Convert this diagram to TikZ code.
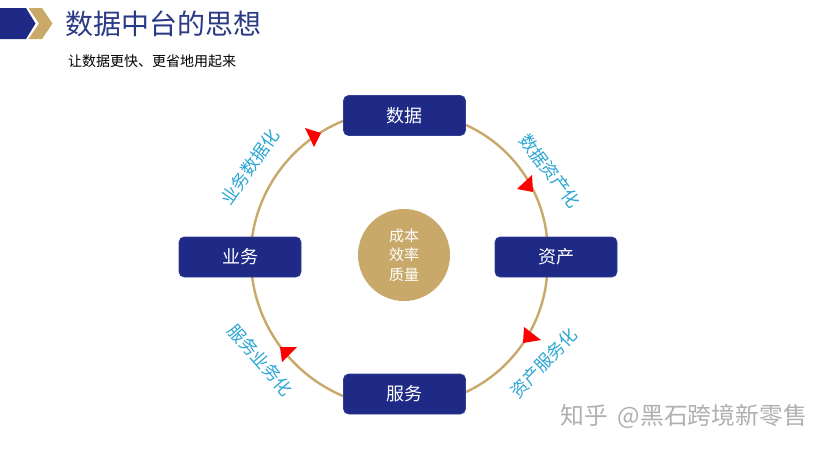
\documentclass[tikz,border=0pt]{standalone}
\usepackage{fontspec}
\setmainfont{Noto Sans CJK SC}
\definecolor{navy}{HTML}{1E2A86}
\definecolor{navyedge}{HTML}{2F3F95}
\definecolor{gold}{HTML}{C9A96A}
\definecolor{titleblue}{HTML}{2B3A85}
\definecolor{labelblue}{HTML}{2BA6D3}
\definecolor{wm}{HTML}{B0B0B0}
\tikzset{
  x=1pt,y=-1pt,
  box/.style={draw=navyedge,line width=.6pt,fill=navy,rounded corners=5pt,minimum width=122pt,minimum height=40pt,inner sep=0pt,text=white,font=\fontsize{18}{18}\selectfont},
  ring/.style={draw=gold,line width=2.4pt},
  flow/.style={fill=red,draw=none},
  lab/.style={text=labelblue,inner sep=0pt,font=\fontsize{17.5}{17.5}\selectfont},
  wmark/.style={inner sep=0pt,anchor=west,font=\fontsize{23.8}{23.8}\selectfont},
  quarter/.style={bend left=30,looseness=.91}
}
\begin{document}
\begin{tikzpicture}
\useasboundingbox (0,0) rectangle (829,448);
\fill[white] (0,0) rectangle (829,448);
% header
\fill[navy] (0,8) -- (26,8) -- (35.5,23.5) -- (26,39) -- (0,39) -- cycle;
\fill[gold] (28.5,8) -- (42,8) -- (52.5,23.5) -- (42,39) -- (28.5,39) -- (39,23.5) -- cycle;
\node[anchor=west,inner sep=0pt,text=titleblue,font=\fontsize{28}{28}\selectfont] (title) at (65,24) {数据中台的思想};
\node[anchor=west,inner sep=0pt,text=black,font=\fontsize{14}{14}\selectfont] (sub) at (68,61) {让数据更快、更省地用起来};
% ring end points, on the box borders
\coordinate (d1) at (466,125);
\coordinate (a0) at (547,238);
\coordinate (a1) at (547,276);
\coordinate (s0) at (466,392);
\coordinate (s1) at (343,396);
\coordinate (b0) at (252,276);
\coordinate (b1) at (252,238);
\coordinate (d0) at (343,121);
% ring connectors
\draw[ring] (d1) to[quarter] (a0);
\draw[ring] (a1) to[quarter] (s0);
\draw[ring] (s1) to[quarter] (b0);
\draw[ring] (b1) to[quarter] (d0);
% boxes
\node[box] (data) at (404.5,115.5) {数据};
\node[box] (asset) at (556,257) {资产};
\node[box] (service) at (404.5,394) {服务};
\node[box] (biz) at (240,257) {业务};
% arrowheads
\fill[flow] (532,175) -- (517,189) -- (533,192) -- cycle;
\fill[flow] (524,327) -- (541,340) -- (523,343) -- cycle;
\fill[flow] (280,347) -- (297,347) -- (282,362) -- cycle;
\fill[flow] (305,128) -- (321,133) -- (314,147) -- cycle;
% centre
\node[circle,fill=gold,minimum size=92pt,inner sep=0pt,text=white,align=center,font=\fontsize{15}{19.5}\selectfont] (core) at (404,255) {成本\\效率\\质量};
% labels
\node[lab,rotate=-53] (l1) at (550,171) {数据资产化};
\node[lab,rotate=46] (l2) at (544,363) {资产服务化};
\node[lab,rotate=-49] (l3) at (260.5,360) {服务业务化};
\node[lab,rotate=55] (l4) at (250,167) {业务数据化};
% watermark
\node[wmark,text=wm] (wmk) at (560,416) {知乎\hspace{10pt}@黑石跨境新零售};
\end{tikzpicture}
\end{document}
